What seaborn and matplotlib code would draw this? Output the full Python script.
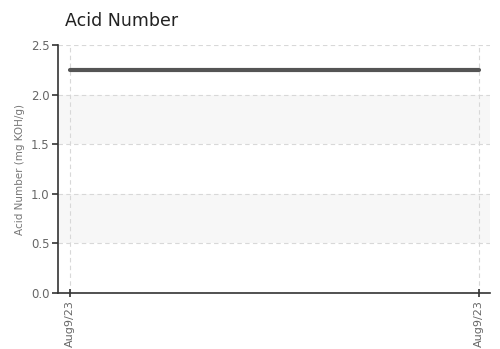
import matplotlib
matplotlib.use("Agg")
import matplotlib.pyplot as plt
import seaborn as sns
import pandas as pd

dates = ["Aug9/23", "Aug9/23"]
acid_number = [2.25, 2.25]
y_ticks = [0.0, 0.5, 1.0, 1.5, 2.0, 2.5]

sns.set_style("white")
plt.rcParams["font.family"] = ["DejaVu Sans"]

df = pd.DataFrame({"idx": range(len(dates)), "val": acid_number})

fig = plt.figure(figsize=(5, 3.49), dpi=100)
ax = fig.add_axes([0.116, 0.1605, 0.864, 0.7105])

# alternating bands
for lo in [0.5, 1.5]:
    ax.axhspan(lo, lo + 0.5, color="#f7f7f7", zorder=0, lw=0)

sns.lineplot(data=df, x="idx", y="val", color="#555555", linewidth=3, ax=ax, zorder=3)

ax.set_xlim(-0.029, 1.027)
ax.set_ylim(0, 2.5)
ax.set_yticks(y_ticks)
ax.set_yticklabels([f"{t:.1f}" for t in y_ticks], fontsize=8.5, color="#666666")
ax.set_xticks(df["idx"])
ax.set_xticklabels(dates, rotation=90, fontsize=8, color="#666666")
ax.set_xlabel("")
ax.set_ylabel("Acid Number (mg KOH/g)", fontsize=7.5, color="#777777", labelpad=4)

ax.grid(True, linestyle=(0, (4, 3)), color="#d8d8d8", linewidth=0.8, zorder=1)
ax.set_axisbelow(True)
for s in ["top", "right"]:
    ax.spines[s].set_visible(False)
for s in ["left", "bottom"]:
    ax.spines[s].set_color("#333333")
    ax.spines[s].set_linewidth(1.2)
ax.tick_params(axis="both", length=4, width=1.2, color="#333333", pad=2)
ax.tick_params(axis="y", direction="out", left=True)
ax.tick_params(axis="x", direction="inout", bottom=True, length=6)

fig.text(0.13, 0.94, "Acid Number", fontsize=12.5, color="#222222", ha="left", va="center")

fig.savefig("out.png", dpi=100)
